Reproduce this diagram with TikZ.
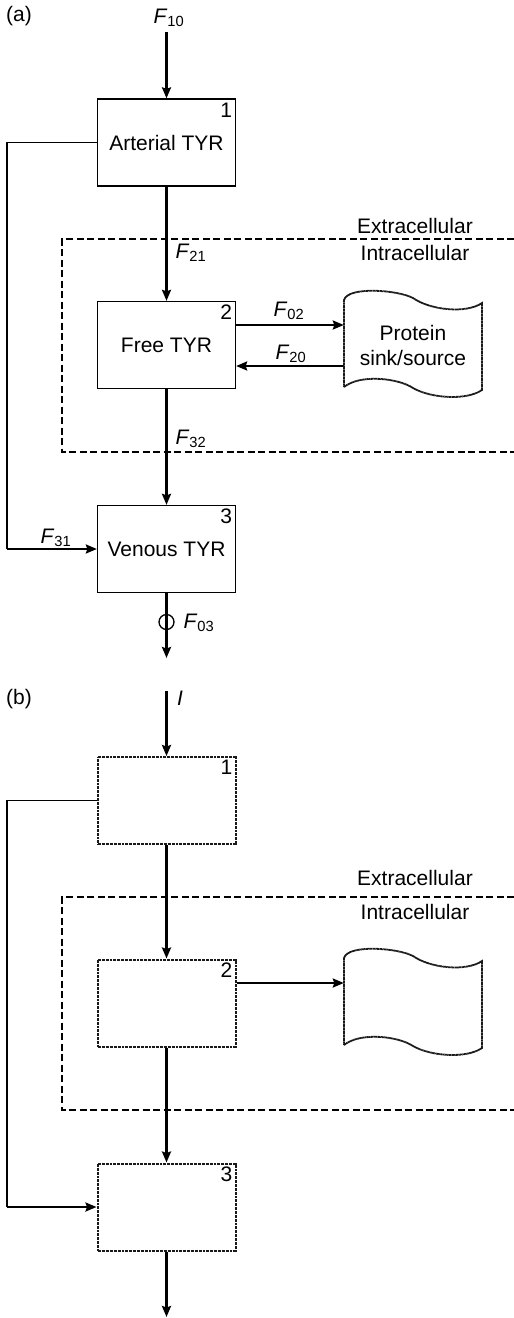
\documentclass[tikz,border=0pt]{standalone}
\usepackage{fontspec}
\setmainfont{Liberation Sans}
\usetikzlibrary{arrows.meta, positioning}
\tikzstyle{comp} = [rectangle, draw=black, line width=1.3pt, minimum width=138pt, minimum height=87pt, inner sep=0pt, align=center]
\tikzstyle{compdot} = [comp, draw=black!90, line width=2pt, dash pattern=on 1pt off 0.35pt]
\tikzstyle{num} = [anchor=north east, inner sep=4pt]
\tikzstyle{arrow} = [line width=2.2pt, -{Stealth[length=11pt,width=9pt,inset=1.5pt]}]
\tikzstyle{wire} = [line width=1.3pt]
\tikzstyle{membrane} = [line width=1.6pt, dash pattern=on 7pt off 3.5pt]
\tikzstyle{tape} = [draw=black!90, line width=1.8pt, dash pattern=on 1pt off 0.35pt]
\newcommand{\fl}[2]{\textit{#1}\textsubscript{#2}}

\begin{document}
\begin{tikzpicture}[x=1pt, y=-1pt, font=\fontsize{21}{25}\selectfont]
    \useasboundingbox (0,0) rectangle (514,1318);

    % panel (a)
    \node (lbla) at (19,16) {(a)};
    \node (f10) at (169,18) {\fl{F}{10}};
    \node[comp] (a1) at (166.5,142.5) {Arterial TYR};
    \node[num] (n1a) at (a1.north east) {1};
    \node[comp] (a2) at (166.5,345) {Free TYR};
    \node[num] (n2a) at (a2.north east) {2};
    \node[comp] (a3) at (166.5,549) {Venous TYR};
    \node[num] (n3a) at (a3.north east) {3};
    \node[minimum width=138pt, minimum height=88pt, inner sep=0pt, align=center] (prota) at (413,345) {Protein\\sink/source};

    \draw[membrane] (514,239) -| (62,452) -- (514,452);
    \node (exa) at (415,226) {Extracellular};
    \node (ina) at (415,253) {Intracellular};

    \coordinate (ina0) at (166.5,32);
    \coordinate (crna) at (7,549);
    \coordinate (outa) at (166.5,658);
    \draw[arrow] (ina0) -- (a1);
    \draw[arrow] (a1) -- (a2);
    \node[anchor=west] (f21) at (172,253) {\fl{F}{21}};
    \draw[arrow] (a2) -- (a3);
    \node[anchor=west] (f32) at (172,439) {\fl{F}{32}};
    \draw[wire] (a1.west) -| (crna);
    \draw[arrow] (crna) -- (a3.west);
    \node (f31) at (56,538) {\fl{F}{31}};
    \draw[arrow] ([yshift=20pt]a2.east) -- ([yshift=20pt]a2.east -| prota.west);
    \node (f02) at (289,311) {\fl{F}{02}};
    \draw[arrow] ([yshift=-21pt]a2.east -| prota.west) -- ([yshift=-21pt]a2.east);
    \node (f20) at (291,354) {\fl{F}{20}};
    \node[circle, draw, line width=1.3pt, minimum size=15pt, inner sep=0pt] (valve) at (166.5,622) {};
    \draw[arrow] (a3) -- (outa);
    \node[anchor=west] (f03) at (180,623) {\fl{F}{03}};

    % protein sink/source outlines
    \foreach \oy in {0,658}{
        \draw[tape] (344,{387+\oy}) -- (344,{300+\oy})
            .. controls (348,{286+\oy}) and (398,{290+\oy}) .. (413,{298+\oy})
            .. controls (430,{310+\oy}) and (466,{314+\oy}) .. (482,{303+\oy})
            -- (482,{390+\oy})
            .. controls (466,{401+\oy}) and (430,{398+\oy}) .. (413,{388+\oy})
            .. controls (398,{378+\oy}) and (360,{374+\oy}) .. cycle;
    }

    % panel (b)
    \begin{scope}[yshift=-658pt]
        \node (lblb) at (19,41) {(b)};
        \node (inp) at (180,40) {\textit{I}};
        \node[compdot] (b1) at (166.5,142.5) {};
        \node[num] (n1b) at (b1.north east) {1};
        \node[compdot] (b2) at (166.5,345) {};
        \node[num] (n2b) at (b2.north east) {2};
        \node[compdot] (b3) at (166.5,549) {};
        \node[num] (n3b) at (b3.north east) {3};
        \node[minimum width=138pt, minimum height=88pt, inner sep=0pt] (protb) at (413,345) {};

        \draw[membrane] (514,239) -| (62,452) -- (514,452);
        \node (exb) at (415,220) {Extracellular};
        \node (inb) at (415,254) {Intracellular};

        \coordinate (inb0) at (166.5,33);
        \coordinate (crnb) at (7,549);
        \coordinate (outb) at (166.5,659);
        \draw[arrow] (inb0) -- (b1);
        \draw[arrow] (b1) -- (b2);
        \draw[arrow] (b2) -- (b3);
        \draw[wire] (b1.west) -| (crnb);
        \draw[arrow] (crnb) -- (b3.west);
        \draw[arrow] ([yshift=20pt]b2.east) -- ([yshift=20pt]b2.east -| protb.west);
        \draw[arrow] (b3) -- (outb);
    \end{scope}
\end{tikzpicture}
\end{document}
